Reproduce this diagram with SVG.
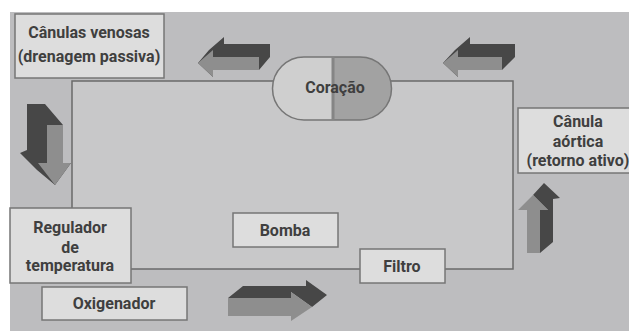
<svg xmlns="http://www.w3.org/2000/svg" width="629" height="331" viewBox="0 0 629 331">
  <style>
    .box { fill: #dddddd; stroke: #767676; stroke-width: 1.5; }
    .lbl { font-family: Roboto, "Liberation Sans", Arial, sans-serif; font-weight: bold; font-size: 16px; fill: #3f3f3f; text-anchor: middle; }
    .wire { fill: none; stroke: #6a6a6a; stroke-width: 1.5; }
    .face { fill: #8e8e8e; }
    .side { fill: #474747; }
  </style>

  <!-- backdrop -->
  <rect x="0" y="0" width="629" height="331" fill="#ffffff"/>
  <rect x="10" y="12" width="619" height="319" fill="#bdbdbf"/>
  <rect x="72" y="81" width="441" height="188" fill="#c8c8c9"/>

  <!-- circuit lines -->
  <g id="connectors">
    <polyline class="wire" points="274,81 72,81 72,208"/>
    <polyline class="wire" points="391,81 513,81 513,269 445,269"/>
    <line class="wire" x1="131" y1="269" x2="360" y2="269"/>
  </g>

  <!-- flow arrows (extruded blocks) -->
  <g id="arrow-top-left">
    <polygon class="side" points="198,63 209,50 224,37 224,44 270,44 270,57 259,70 213,70 213,77"/>
    <polygon class="face" points="198,63 213,50 213,57 259,57 259,70 213,70 213,77"/>
  </g>
  <g id="arrow-top-right">
    <polygon class="side" points="443,63 455,50 470,37 470,44 515,44 515,57 502,70 458,70 458,77"/>
    <polygon class="face" points="443,63 458,50 458,57 502,57 502,70 458,70 458,77"/>
  </g>
  <g id="arrow-left-down">
    <polygon class="side" points="63,125 45,104 27,104 27,150 20,153 37,170 55,185 71,163 63,163"/>
    <polygon class="face" points="47,125 63,125 63,163 71,163 55,185 38,163 47,163"/>
  </g>
  <g id="arrow-right-up">
    <polygon class="side" points="533,195 544,183 560,198 553,199 553,242 540,253 540,210 548,210"/>
    <polygon class="face" points="533,195 548,210 540,210 540,253 527,253 527,210 518,210"/>
  </g>
  <g id="arrow-bottom">
    <polygon class="side" points="228,298 243,286 306,286 306,280 327,295 312,307 291,292 291,298"/>
    <polygon class="face" points="228,298 291,298 291,292 312,307 291,321 291,316 228,316"/>
  </g>

  <!-- heart -->
  <g id="coracao">
    <path d="M333,57 H304 A31.5,31.5 0 0 0 304,120 H333 Z" fill="#cfcfcf"/>
    <path d="M333,57 H360 A31.5,31.5 0 0 1 360,120 H333 Z" fill="#a2a2a2"/>
    <path d="M304,57 H360 A31.5,31.5 0 0 1 360,120 H304 A31.5,31.5 0 0 1 304,57 Z" fill="none" stroke="#767676" stroke-width="1.5"/>
    <line x1="333" y1="57" x2="333" y2="120" stroke="#858585" stroke-width="3"/>
    <text class="lbl" x="335" y="93">Coração</text>
  </g>

  <g id="canulas-venosas">
    <rect class="box" x="15" y="14" width="149" height="64"/>
    <text class="lbl" x="89" y="38">Cânulas venosas</text>
    <text class="lbl" x="89" y="62">(drenagem passiva)</text>
  </g>

  <g id="canula-aortica">
    <rect class="box" x="518" y="108" width="116" height="65"/>
    <text class="lbl" x="578" y="127">Cânula</text>
    <text class="lbl" x="578" y="147">aórtica</text>
    <text class="lbl" x="578" y="166">(retorno ativo)</text>
  </g>

  <g id="regulador">
    <rect class="box" x="10" y="208" width="121" height="75"/>
    <text class="lbl" x="70" y="233">Regulador</text>
    <text class="lbl" x="70" y="253">de</text>
    <text class="lbl" x="70" y="271">temperatura</text>
  </g>

  <g id="bomba">
    <rect class="box" x="233" y="213" width="105" height="34"/>
    <text class="lbl" x="285" y="236">Bomba</text>
  </g>

  <g id="filtro">
    <rect class="box" x="360" y="249" width="85" height="34"/>
    <text class="lbl" x="402" y="272">Filtro</text>
  </g>

  <g id="oxigenador">
    <rect class="box" x="42" y="287" width="145" height="33"/>
    <text class="lbl" x="114" y="309">Oxigenador</text>
  </g>
</svg>
